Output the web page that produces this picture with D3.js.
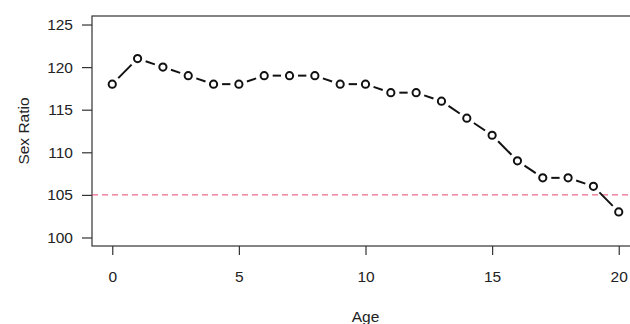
<!DOCTYPE html>
<html>
  <head>
    <meta charset="utf-8">
    <title>Sex Ratio by Age</title>
    <script src="https://d3js.org/d3.v7.min.js"></script>
    <style>
      body { margin: 0; background: #fff; }
      svg { display: block; font-family: "Liberation Sans", Arial, sans-serif; }
      .tick-label { font-size: 15.5px; fill: #222; }
      .axis-title { font-size: 15.5px; fill: #222; }
    </style>
  </head>
  <body>
    <svg width="630" height="324"></svg>

    <script>
      // data
      const ages = [0, 1, 2, 3, 4, 5, 6, 7, 8, 9, 10, 11, 12, 13, 14, 15, 16, 17, 18, 19, 20];
      const sexRatio = [118, 121, 120, 119, 118, 118, 119, 119, 119, 118, 118, 117, 117, 116, 114, 112, 109, 107, 107, 106, 103];
      const xTicks = [0, 5, 10, 15, 20];
      const yTicks = [100, 105, 110, 115, 120, 125];
      const refLine = 105;

      const svg = d3.select("svg");

      // plot region (R style, 4% padding on the limits)
      const plotL = 92, plotR = 639, plotT = 16, plotB = 246;

      const x = d3.scaleLinear().domain([-0.8, 20.8]).range([plotL, plotR]);
      const y = d3.scaleLinear().domain([99, 126]).range([plotB, plotT]);

      // box
      svg.append("rect")
        .attr("x", plotL).attr("y", plotT)
        .attr("width", plotR - plotL).attr("height", plotB - plotT)
        .attr("fill", "none").attr("stroke", "#333").attr("stroke-width", 1.2);

      // y axis
      const yAxis = svg.append("g").attr("transform", `translate(${plotL},0)`)
        .call(d3.axisLeft(y).tickValues(yTicks).tickSize(10).tickPadding(9).tickSizeOuter(0));
      yAxis.select(".domain").remove();
      yAxis.selectAll("line").attr("stroke", "#333").attr("stroke-width", 1.2);
      yAxis.selectAll("text").attr("class", "tick-label").attr("font-size", null).attr("font-family", null);

      // x axis
      const xAxis = svg.append("g").attr("transform", `translate(0,${plotB})`)
        .call(d3.axisBottom(x).tickValues(xTicks).tickSize(9).tickPadding(16).tickSizeOuter(0));
      xAxis.select(".domain").remove();
      xAxis.selectAll("line").attr("stroke", "#333").attr("stroke-width", 1.2);
      xAxis.selectAll("text").attr("class", "tick-label").attr("font-size", null).attr("font-family", null);

      // axis titles
      svg.append("text")
        .attr("class", "axis-title")
        .attr("text-anchor", "middle")
        .attr("x", x(10))
        .attr("y", 322)
        .text("Age");

      svg.append("text")
        .attr("class", "axis-title")
        .attr("text-anchor", "middle")
        .attr("transform", `translate(29,${(plotT + plotB) / 2}) rotate(-90)`)
        .text("Sex Ratio");

      // reference line
      svg.append("line")
        .attr("x1", plotL).attr("x2", plotR)
        .attr("y1", y(refLine)).attr("y2", y(refLine))
        .attr("stroke", "#e5476e").attr("stroke-width", 1)
        .attr("stroke-dasharray", "6,4");

      // connecting segments with gaps around the points (type = "b")
      const pts = ages.map((a, i) => [x(a), y(sexRatio[i])]);
      const gap = 8.5;
      const segs = d3.pairs(pts).map(([p, q]) => {
        const dx = q[0] - p[0], dy = q[1] - p[1];
        const len = Math.hypot(dx, dy);
        const ux = dx / len, uy = dy / len;
        return [p[0] + ux * gap, p[1] + uy * gap, q[0] - ux * gap, q[1] - uy * gap];
      });

      svg.selectAll(".seg")
        .data(segs)
        .enter().append("line")
          .attr("class", "seg")
          .attr("x1", d => d[0]).attr("y1", d => d[1])
          .attr("x2", d => d[2]).attr("y2", d => d[3])
          .attr("stroke", "#111").attr("stroke-width", 2);

      svg.selectAll(".pt")
        .data(ages)
        .enter().append("circle")
          .attr("class", "pt")
          .attr("cx", (d, i) => x(d))
          .attr("cy", (d, i) => y(sexRatio[i]))
          .attr("r", 3.6)
          .attr("fill", "none")
          .attr("stroke", "#111")
          .attr("stroke-width", 2);
    </script>
  </body>
</html>
